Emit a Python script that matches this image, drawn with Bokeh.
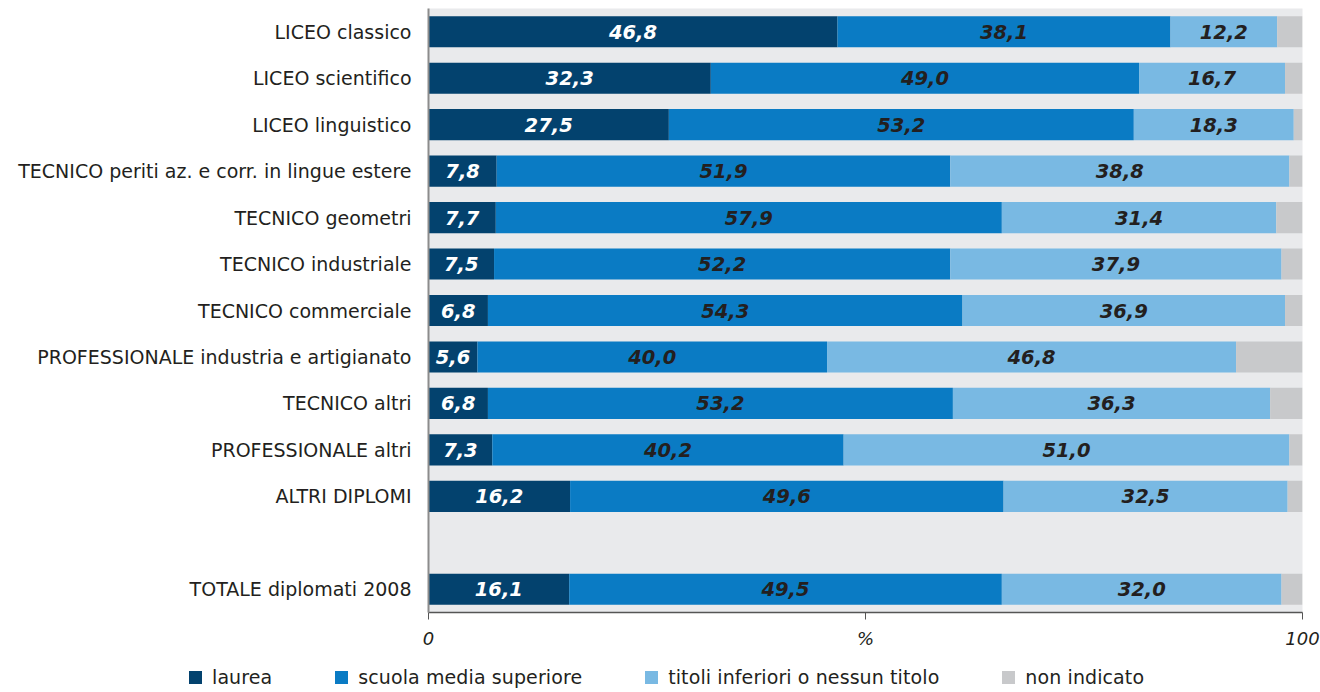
import numpy as np
from bokeh.plotting import figure
from bokeh.layouts import column
from bokeh.models import FactorRange, Range1d, FixedTicker, ColumnDataSource, Div
from bokeh.core.properties import value
from bokeh.embed import file_html
from bokeh.resources import INLINE

categories = [
    "LICEO classico",
    "LICEO scientifico",
    "LICEO linguistico",
    "TECNICO periti az. e corr. in lingue estere",
    "TECNICO geometri",
    "TECNICO industriale",
    "TECNICO commerciale",
    "PROFESSIONALE industria e artigianato",
    "TECNICO altri",
    "PROFESSIONALE altri",
    "ALTRI DIPLOMI",
    "TOTALE diplomati 2008",
]
laurea = [46.8, 32.3, 27.5, 7.8, 7.7, 7.5, 6.8, 5.6, 6.8, 7.3, 16.2, 16.1]
scuola = [38.1, 49.0, 53.2, 51.9, 57.9, 52.2, 54.3, 40.0, 53.2, 40.2, 49.6, 49.5]
titoli = [12.2, 16.7, 18.3, 38.8, 31.4, 37.9, 36.9, 46.8, 36.3, 51.0, 32.5, 32.0]
non_indicato = [2.9, 2.0, 1.0, 1.5, 3.0, 2.4, 2.0, 7.6, 3.7, 1.5, 1.7, 2.4]

series_names = ["laurea", "scuola media superiore", "titoli inferiori o nessun titolo", "non indicato"]
series_colors = ["#03426e", "#0a7bc4", "#79b9e3", "#c8c9cb"]
label_colors = ["#ffffff", "#231f20", "#231f20", None]
x_ticks = [0, 50, 100]
x_tick_labels = ["0", "%", "100"]

FONT = "DejaVu Sans"
gap = " "
factors = categories[:-1] + [gap] + categories[-1:]

p = figure(
    width=1320, height=662,
    y_range=FactorRange(factors=factors[::-1], range_padding=0),
    x_range=Range1d(0, 100),
    output_backend="svg", toolbar_location=None,
    min_border_left=428, min_border_right=18, min_border_top=8, min_border_bottom=50,
)
p.background_fill_color = "#e9eaec"
p.border_fill_color = "white"
p.outline_line_color = None
p.grid.grid_line_color = None

series = [laurea, scuola, titoli, non_indicato]
left = np.zeros(len(categories))
for name, vals, col, lcol in zip(series_names, series, series_colors, label_colors):
    vals = np.array(vals, dtype=float)
    right = left + vals
    src = ColumnDataSource(dict(
        y=categories, left=left.copy(), right=right.copy(), mid=(left + right) / 2,
        lab=[f"{v:.1f}".replace(".", ",") for v in vals],
    ))
    p.hbar(y="y", left="left", right="right", height=0.67, source=src,
           fill_color=col, line_color=None)
    if lcol is not None:
        p.text(x="mid", y="y", text="lab", source=src, text_align="center",
               text_baseline="middle", text_font=value(FONT), text_font_style="bold italic",
               text_font_size="19.5px", text_color=lcol)
    left = right

# y axis
p.yaxis.major_tick_line_color = None
p.yaxis.minor_tick_line_color = None
p.yaxis.axis_line_color = "#8c8c8c"
p.yaxis.axis_line_width = 2
p.yaxis.major_label_text_font = FONT
p.yaxis.major_label_text_font_size = "19px"
p.yaxis.major_label_text_color = "#231f20"
p.yaxis.major_label_standoff = 11

# x axis
p.xaxis.ticker = FixedTicker(ticks=x_ticks)
p.xaxis.major_label_overrides = {t: l for t, l in zip(x_ticks, x_tick_labels)}
p.xaxis.minor_tick_line_color = None
p.xaxis.major_tick_in = 0
p.xaxis.major_tick_out = 7
p.xaxis.major_tick_line_color = "#555555"
p.xaxis.axis_line_color = "#555555"
p.xaxis.axis_line_width = 1.5
p.xaxis.major_label_text_font = FONT
p.xaxis.major_label_text_font_style = "italic"
p.xaxis.major_label_text_font_size = "18px"
p.xaxis.major_label_text_color = "#231f20"
p.xaxis.major_label_standoff = 8

# legend strip (HTML) below the chart
items_html = "".join(
    f'<div style="display:flex;align-items:center;margin-right:63px;">'
    f'<span style="display:inline-block;width:13px;height:13px;background:{c};margin-right:10px;"></span>'
    f'<span>{n}</span></div>'
    for n, c in zip(series_names, series_colors)
)
legend_div = Div(
    text=(f'<div style="display:flex;align-items:center;height:22px;padding-top:8px;'
          f'padding-left:189px;font-family:\'DejaVu Sans\';font-size:19px;color:#231f20;'
          f'white-space:nowrap;line-height:20px;letter-spacing:0.1px;">{items_html}</div>'),
    width=1320, height=30, margin=0,
)

layout = column(p, legend_div, spacing=0)
open("out.html", "w").write(file_html(layout, INLINE))
